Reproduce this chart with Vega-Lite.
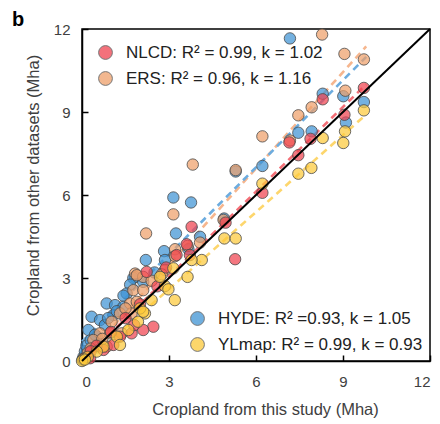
{
  "$schema": "https://vega.github.io/schema/vega-lite/v6.json",
  "width": 348,
  "height": 332,
  "autosize": {"type": "none"},
  "padding": {"left": 82, "top": 29, "right": 10, "bottom": 63},
  "config": {
    "view": {"stroke": "black", "strokeWidth": 1.5},
    "font": "Liberation Sans",
    "axis": {
      "grid": false,
      "domainColor": "black",
      "domainWidth": 1.5,
      "tickColor": "black",
      "tickWidth": 1.5,
      "tickSize": -6,
      "labelFontSize": 15,
      "labelColor": "#404040",
      "titleFontSize": 16.5,
      "titleFontWeight": "normal",
      "titleColor": "#404040"
    },
    "legend": {
      "title": null,
      "labelFontSize": 17,
      "labelColor": "#222222",
      "labelLimit": 400,
      "symbolSize": 190,
      "symbolStrokeColor": "#4a4a4a",
      "symbolStrokeWidth": 1,
      "symbolOpacity": 0.75,
      "labelOffset": 12,
      "rowPadding": 7,
      "padding": 0
    }
  },
  "title": {"text": "b", "anchor": "start", "frame": "group", "fontSize": 20, "fontWeight": "bold", "color": "black", "dx": -70, "dy": 12, "offset": 4},
  "datasets": {
    "pts": [
      {"dataset": "HYDE", "study": 7.17, "other": 11.66}, {"dataset": "HYDE", "study": 9.72, "other": 9.36}, {"dataset": "HYDE", "study": 8.3, "other": 9.66}, {"dataset": "HYDE", "study": 9.01, "other": 9.57}, {"dataset": "HYDE", "study": 9.1, "other": 8.62}, {"dataset": "HYDE", "study": 7.46, "other": 8.25}, {"dataset": "HYDE", "study": 7.92, "other": 8.3}, {"dataset": "HYDE", "study": 6.22, "other": 7.05}, {"dataset": "HYDE", "study": 5.3, "other": 6.85}, {"dataset": "HYDE", "study": 3.15, "other": 5.91}, {"dataset": "HYDE", "study": 3.76, "other": 5.73}, {"dataset": "HYDE", "study": 3.24, "other": 4.61}, {"dataset": "HYDE", "study": 4.9, "other": 5.15}, {"dataset": "HYDE", "study": 2.2, "other": 3.65}, {"dataset": "HYDE", "study": 2.83, "other": 3.97}, {"dataset": "HYDE", "study": 4.07, "other": 4.49}, {"dataset": "HYDE", "study": 3.67, "other": 4.04}, {"dataset": "HYDE", "study": 2.86, "other": 3.65}, {"dataset": "HYDE", "study": 1.83, "other": 3.04}, {"dataset": "HYDE", "study": 1.77, "other": 3.0}, {"dataset": "HYDE", "study": 1.66, "other": 2.76}, {"dataset": "HYDE", "study": 2.11, "other": 2.86}, {"dataset": "HYDE", "study": 1.54, "other": 2.44}, {"dataset": "HYDE", "study": 1.43, "other": 2.36}, {"dataset": "HYDE", "study": 0.85, "other": 2.08}, {"dataset": "HYDE", "study": 1.14, "other": 2.02}, {"dataset": "HYDE", "study": 0.33, "other": 1.6}, {"dataset": "HYDE", "study": 0.62, "other": 1.48}, {"dataset": "HYDE", "study": 1.08, "other": 1.66}, {"dataset": "HYDE", "study": 1.43, "other": 1.96}, {"dataset": "HYDE", "study": 0.22, "other": 1.12}, {"dataset": "HYDE", "study": 0.51, "other": 0.88}, {"dataset": "HYDE", "study": 0.79, "other": 1.3}, {"dataset": "HYDE", "study": 0.05, "other": 0.15}, {"dataset": "HYDE", "study": 0.1, "other": 0.35}, {"dataset": "HYDE", "study": 0.15, "other": 0.55}, {"dataset": "HYDE", "study": 0.3, "other": 0.75}, {"dataset": "HYDE", "study": 0.45, "other": 0.95}, {"dataset": "HYDE", "study": 1.2, "other": 1.8}, {"dataset": "HYDE", "study": 0.9, "other": 1.55}, {"dataset": "HYDE", "study": 2.5, "other": 3.2}, {"dataset": "HYDE", "study": 0.02, "other": 0.05},
      {"dataset": "ERS", "study": 8.28, "other": 11.8}, {"dataset": "ERS", "study": 9.05, "other": 11.1}, {"dataset": "ERS", "study": 9.72, "other": 10.9}, {"dataset": "ERS", "study": 9.08, "other": 9.77}, {"dataset": "ERS", "study": 7.92, "other": 9.17}, {"dataset": "ERS", "study": 7.46, "other": 8.88}, {"dataset": "ERS", "study": 7.17, "other": 7.97}, {"dataset": "ERS", "study": 6.22, "other": 8.12}, {"dataset": "ERS", "study": 5.3, "other": 6.9}, {"dataset": "ERS", "study": 3.82, "other": 7.1}, {"dataset": "ERS", "study": 3.15, "other": 5.3}, {"dataset": "ERS", "study": 2.21, "other": 4.61}, {"dataset": "ERS", "study": 4.88, "other": 5.1}, {"dataset": "ERS", "study": 3.21, "other": 4.04}, {"dataset": "ERS", "study": 3.64, "other": 4.16}, {"dataset": "ERS", "study": 4.07, "other": 4.28}, {"dataset": "ERS", "study": 3.21, "other": 3.79}, {"dataset": "ERS", "study": 2.86, "other": 3.29}, {"dataset": "ERS", "study": 2.75, "other": 3.13}, {"dataset": "ERS", "study": 1.83, "other": 3.16}, {"dataset": "ERS", "study": 2.11, "other": 3.04}, {"dataset": "ERS", "study": 1.77, "other": 2.56}, {"dataset": "ERS", "study": 1.89, "other": 3.1}, {"dataset": "ERS", "study": 2.11, "other": 2.56}, {"dataset": "ERS", "study": 1.66, "other": 2.08}, {"dataset": "ERS", "study": 1.31, "other": 1.72}, {"dataset": "ERS", "study": 1.02, "other": 1.42}, {"dataset": "ERS", "study": 0.62, "other": 1.0}, {"dataset": "ERS", "study": 0.39, "other": 0.76}, {"dataset": "ERS", "study": 1.71, "other": 1.72}, {"dataset": "ERS", "study": 0.97, "other": 1.0}, {"dataset": "ERS", "study": 1.89, "other": 2.14}, {"dataset": "ERS", "study": 0.85, "other": 0.52}, {"dataset": "ERS", "study": 1.37, "other": 1.0}, {"dataset": "ERS", "study": 0.2, "other": 0.3}, {"dataset": "ERS", "study": 0.05, "other": 0.08}, {"dataset": "ERS", "study": 2.4, "other": 2.9}, {"dataset": "ERS", "study": 1.5, "other": 1.9}, {"dataset": "ERS", "study": 0.7, "other": 0.8}, {"dataset": "ERS", "study": 0.3, "other": 0.45},
      {"dataset": "NLCD", "study": 9.72, "other": 9.87}, {"dataset": "NLCD", "study": 8.3, "other": 9.46}, {"dataset": "NLCD", "study": 9.05, "other": 8.9}, {"dataset": "NLCD", "study": 7.88, "other": 8.03}, {"dataset": "NLCD", "study": 7.15, "other": 7.9}, {"dataset": "NLCD", "study": 7.46, "other": 7.44}, {"dataset": "NLCD", "study": 6.22, "other": 6.08}, {"dataset": "NLCD", "study": 4.95, "other": 5.0}, {"dataset": "NLCD", "study": 3.78, "other": 4.85}, {"dataset": "NLCD", "study": 5.28, "other": 3.68}, {"dataset": "NLCD", "study": 3.61, "other": 4.22}, {"dataset": "NLCD", "study": 3.26, "other": 3.83}, {"dataset": "NLCD", "study": 3.72, "other": 3.83}, {"dataset": "NLCD", "study": 2.9, "other": 3.38}, {"dataset": "NLCD", "study": 2.23, "other": 3.22}, {"dataset": "NLCD", "study": 2.46, "other": 1.24}, {"dataset": "NLCD", "study": 2.11, "other": 1.12}, {"dataset": "NLCD", "study": 1.71, "other": 1.0}, {"dataset": "NLCD", "study": 1.08, "other": 0.58}, {"dataset": "NLCD", "study": 0.74, "other": 0.4}, {"dataset": "NLCD", "study": 0.28, "other": 0.1}, {"dataset": "NLCD", "study": 1.31, "other": 0.88}, {"dataset": "NLCD", "study": 1.5, "other": 1.55}, {"dataset": "NLCD", "study": 2.0, "other": 2.05}, {"dataset": "NLCD", "study": 0.5, "other": 0.55}, {"dataset": "NLCD", "study": 0.1, "other": 0.1}, {"dataset": "NLCD", "study": 1.0, "other": 1.05}, {"dataset": "NLCD", "study": 2.6, "other": 2.7}, {"dataset": "NLCD", "study": 0.3, "other": 0.35}, {"dataset": "NLCD", "study": 1.8, "other": 1.3},
      {"dataset": "YLmap", "study": 9.72, "other": 9.06}, {"dataset": "YLmap", "study": 9.07, "other": 8.3}, {"dataset": "YLmap", "study": 9.01, "other": 7.88}, {"dataset": "YLmap", "study": 8.3, "other": 8.06}, {"dataset": "YLmap", "study": 7.46, "other": 6.77}, {"dataset": "YLmap", "study": 7.91, "other": 6.98}, {"dataset": "YLmap", "study": 6.22, "other": 6.41}, {"dataset": "YLmap", "study": 4.91, "other": 4.43}, {"dataset": "YLmap", "study": 5.3, "other": 4.43}, {"dataset": "YLmap", "study": 4.13, "other": 3.65}, {"dataset": "YLmap", "study": 3.78, "other": 3.65}, {"dataset": "YLmap", "study": 3.15, "other": 3.35}, {"dataset": "YLmap", "study": 3.64, "other": 3.04}, {"dataset": "YLmap", "study": 2.86, "other": 2.71}, {"dataset": "YLmap", "study": 2.98, "other": 2.59}, {"dataset": "YLmap", "study": 3.2, "other": 2.2}, {"dataset": "YLmap", "study": 2.69, "other": 3.04}, {"dataset": "YLmap", "study": 2.17, "other": 1.72}, {"dataset": "YLmap", "study": 1.93, "other": 1.42}, {"dataset": "YLmap", "study": 1.6, "other": 1.12}, {"dataset": "YLmap", "study": 1.2, "other": 0.88}, {"dataset": "YLmap", "study": 0.74, "other": 0.52}, {"dataset": "YLmap", "study": 0.51, "other": 0.34}, {"dataset": "YLmap", "study": 0.05, "other": 0.06}, {"dataset": "YLmap", "study": 1.31, "other": 0.58}, {"dataset": "YLmap", "study": 2.4, "other": 2.2}, {"dataset": "YLmap", "study": 2.0, "other": 1.9}, {"dataset": "YLmap", "study": 0.2, "other": 0.15}, {"dataset": "YLmap", "study": 0.0, "other": 0.0}, {"dataset": "YLmap", "study": 0.1, "other": 0.05}, {"dataset": "YLmap", "study": 2.11, "other": 1.78}
    ],
    "fits": [
      {"dataset": "NLCD", "study": 0, "other": 0, "study2": 9.8, "other2": 10.0},
      {"dataset": "ERS", "study": 0, "other": 0, "study2": 9.8, "other2": 11.37},
      {"dataset": "HYDE", "study": 0, "other": 0.7, "study2": 9.8, "other2": 10.99},
      {"dataset": "YLmap", "study": 0.2, "other": 0.0, "study2": 9.8, "other2": 8.91}
    ],
    "diag": [{"study": 0, "other": 0, "study2": 12, "other2": 12}]
  },
  "encoding": {
    "x": {"field": "study", "type": "quantitative", "scale": {"domain": [0, 12], "nice": false}, "axis": {"title": "Cropland from this study (Mha)", "values": [0, 3, 6, 9, 12], "labelPadding": 19, "titlePadding": 12, "titleX": 183}},
    "y": {"field": "other", "type": "quantitative", "scale": {"domain": [0, 12], "nice": false}, "axis": {"title": "Cropland from other datasets (Mha)", "values": [0, 3, 6, 9, 12], "labelPadding": 18, "titlePadding": 12, "titleY": 156}}
  },
  "layer": [
    {
      "data": {"name": "fits"},
      "mark": {"type": "rule", "strokeWidth": 2.6, "strokeDash": [7, 5]},
      "encoding": {
        "x2": {"field": "study2"},
        "y2": {"field": "other2"},
        "stroke": {"field": "dataset", "type": "nominal", "scale": {"domain": ["NLCD", "ERS", "HYDE", "YLmap"], "range": ["#f47078", "#f6b68e", "#6cacdf", "#fdd66c"]}, "legend": null}
      }
    },
    {
      "data": {"name": "pts"},
      "transform": [{"filter": "datum.dataset == 'HYDE'"}],
      "mark": {"type": "point", "filled": true, "size": 130, "stroke": "#4a4a4a", "strokeWidth": 1, "fillOpacity": 0.72, "strokeOpacity": 0.8},
      "encoding": {
        "fill": {"field": "dataset", "type": "nominal", "scale": {"domain": ["HYDE", "YLmap"], "range": ["#3f93d4", "#fcc93a"]},
          "legend": {"orient": "bottom-right", "offset": 7, "labelExpr": "datum.label == 'HYDE' ? 'HYDE: R² =0.93, k = 1.05' : 'YLmap: R² = 0.99, k = 0.93'"}}
      }
    },
    {
      "data": {"name": "pts"},
      "transform": [{"filter": "datum.dataset == 'ERS'"}],
      "mark": {"type": "point", "filled": true, "size": 130, "stroke": "#4a4a4a", "strokeWidth": 1, "fillOpacity": 0.72, "strokeOpacity": 0.8},
      "encoding": {
        "color": {"field": "dataset", "type": "nominal", "scale": {"domain": ["NLCD", "ERS"], "range": ["#f0424f", "#eea06a"]},
          "legend": {"orient": "top-left", "offset": 15, "labelExpr": "datum.label == 'NLCD' ? 'NLCD: R² = 0.99, k = 1.02' : 'ERS: R² = 0.96, k = 1.16'"}}
      }
    },
    {
      "data": {"name": "pts"},
      "transform": [{"filter": "datum.dataset == 'NLCD'"}],
      "mark": {"type": "point", "filled": true, "size": 130, "stroke": "#4a4a4a", "strokeWidth": 1, "fillOpacity": 0.72, "strokeOpacity": 0.8},
      "encoding": {
        "color": {"field": "dataset", "type": "nominal"}
      }
    },
    {
      "data": {"name": "pts"},
      "transform": [{"filter": "datum.dataset == 'YLmap'"}],
      "mark": {"type": "point", "filled": true, "size": 130, "stroke": "#4a4a4a", "strokeWidth": 1, "fillOpacity": 0.72, "strokeOpacity": 0.8},
      "encoding": {
        "fill": {"field": "dataset", "type": "nominal"}
      }
    },
    {
      "data": {"name": "diag"},
      "mark": {"type": "rule", "color": "black", "strokeWidth": 2},
      "encoding": {
        "x2": {"field": "study2"},
        "y2": {"field": "other2"}
      }
    }
  ]
}
